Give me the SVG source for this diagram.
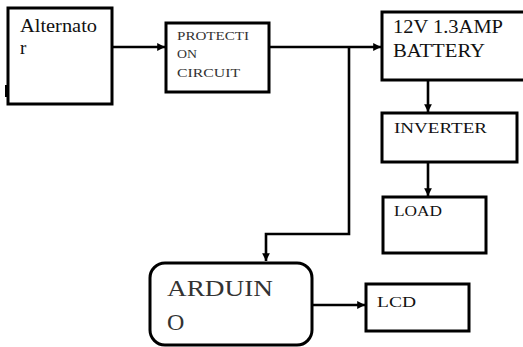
<svg xmlns="http://www.w3.org/2000/svg" width="523" height="347" viewBox="0 0 523 347">
<style>
.box{fill:#fff;stroke:#000;stroke-width:3}
.ln{fill:none;stroke:#000;stroke-width:2.6}
text{fill:#111}
.g{fill:#333}
</style>
<defs>
<marker id="ah" viewBox="0 0 10 10" refX="10" refY="5" markerWidth="3" markerHeight="3" orient="auto" markerUnits="strokeWidth">
<path d="M0,0 L10,5 L0,10 z" fill="#000"/>
</marker>
</defs>
<rect width="523" height="347" fill="#fff"/>
<g id="connectors">
<line class="ln" x1="112" y1="47" x2="165" y2="47" marker-end="url(#ah)"/>
<line class="ln" x1="269" y1="47" x2="381" y2="47" marker-end="url(#ah)"/>
<polyline class="ln" points="349,47 349,234 266,234 266,261" marker-end="url(#ah)"/>
<line class="ln" x1="428" y1="80" x2="428" y2="112" marker-end="url(#ah)"/>
<line class="ln" x1="428" y1="162" x2="428" y2="196" marker-end="url(#ah)"/>
<line class="ln" x1="312" y1="305" x2="365" y2="305" marker-end="url(#ah)"/>
</g>
<g font-family="'Liberation Serif', 'DejaVu Serif', serif">
<g id="alternator">
<rect class="box" x="8" y="8" width="104" height="96"/>
<rect x="5" y="85" width="3" height="12" fill="#000"/>
<text x="20" y="32" font-size="19" textLength="77" lengthAdjust="spacingAndGlyphs">Alternato</text>
<text x="20" y="54" font-size="19">r</text>
</g>
<g id="protection">
<rect class="box" x="166" y="23" width="103" height="69"/>
<text class="g" x="177" y="40" font-size="13" textLength="72" lengthAdjust="spacingAndGlyphs">PROTECTI</text>
<text class="g" x="177" y="58" font-size="13" textLength="20" lengthAdjust="spacingAndGlyphs">ON</text>
<text class="g" x="177" y="77" font-size="13" textLength="63" lengthAdjust="spacingAndGlyphs">CIRCUIT</text>
</g>
<g id="battery">
<rect class="box" x="382" y="12" width="145" height="68"/>
<text x="393" y="33" font-size="19" textLength="110" lengthAdjust="spacingAndGlyphs">12V 1.3AMP</text>
<text x="393" y="57" font-size="19" textLength="92" lengthAdjust="spacingAndGlyphs">BATTERY</text>
</g>
<g id="inverter">
<rect class="box" x="382" y="113" width="135" height="49"/>
<text x="394" y="133" font-size="14" textLength="93" lengthAdjust="spacingAndGlyphs">INVERTER</text>
</g>
<g id="load">
<rect class="box" x="383" y="197" width="103" height="56"/>
<text x="394" y="216" font-size="14" textLength="48" lengthAdjust="spacingAndGlyphs">LOAD</text>
</g>
<g id="arduino">
<rect class="box" x="150" y="263" width="162" height="82" rx="15" ry="15"/>
<text class="g" x="167" y="296" font-size="24" textLength="106" lengthAdjust="spacingAndGlyphs">ARDUIN</text>
<text class="g" x="167" y="330" font-size="24">O</text>
</g>
<g id="lcd">
<rect class="box" x="366" y="284" width="103" height="47"/>
<text x="377" y="307" font-size="15" textLength="39" lengthAdjust="spacingAndGlyphs">LCD</text>
</g>
</g>
</svg>
